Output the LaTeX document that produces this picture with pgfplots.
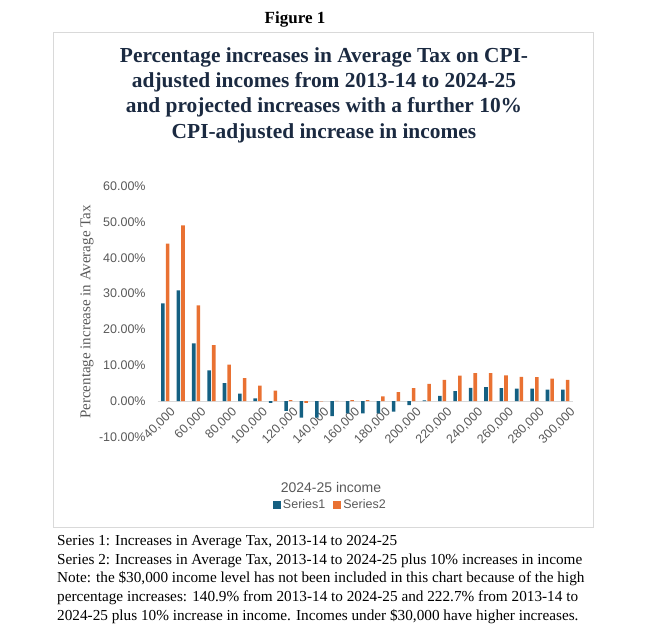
\documentclass[border=0pt]{standalone}
\usepackage{fontspec}
\setmainfont{Liberation Serif}
\newfontfamily\arial{Liberation Sans}
\usepackage{pgfplots}
\pgfplotsset{compat=1.18}
\definecolor{sone}{HTML}{156082}
\definecolor{stwo}{HTML}{E97132}
\definecolor{txtgray}{HTML}{595959}
\definecolor{ttl}{HTML}{1B2A41}
\definecolor{boxgray}{HTML}{D9D9D9}

\begin{document}
\begin{tikzpicture}
\useasboundingbox (0,0) rectangle (647bp,633bp);

\node[font=\fontsize{17bp}{20bp}\selectfont\bfseries] at (295bp,614bp) {Figure 1};
\draw[boxgray, line width=0.8bp] (53bp,106bp) rectangle (593bp,601bp);

\node[align=center, text=ttl, font=\fontsize{21.4bp}{25.3bp}\selectfont\bfseries] at (324bp,538bp)
  {Percentage increases in Average Tax on CPI-\\adjusted incomes from 2013-14 to 2024-25\\and projected increases with a further 10\%\\CPI-adjusted increase in incomes};

\begin{axis}[
    at={(157.6bp,196bp)}, anchor=south west,
    scale only axis, width=415.3bp, height=251bp,
    xmin=-0.5, xmax=26.5, ymin=-10, ymax=60,
    axis x line=middle, axis y line=left,
    x axis line style={-, draw=boxgray, line width=0.75bp},
    y axis line style={draw=none},
    major tick length=0,
    xtick={0,2,...,26},
    xticklabels={{40,000},{60,000},{80,000},{100,000},{120,000},{140,000},{160,000},{180,000},{200,000},{220,000},{240,000},{260,000},{280,000},{300,000}},
    x tick label style={rotate=45, anchor=north east, text=txtgray, font=\arial\fontsize{12.5bp}{15bp}\selectfont, xshift=3bp, yshift=-3bp},
    ytick={-10,0,...,60},
    yticklabels={{-10.00\%},{0.00\%},{10.00\%},{20.00\%},{30.00\%},{40.00\%},{50.00\%},{60.00\%}},
    y tick label style={text=txtgray, font=\arial\fontsize{12.5bp}{15bp}\selectfont, xshift=-8.5bp},
    ybar=1.1bp, bar width=0.23,
    legend style={at={(0.416,-0.271)}, anchor=center, draw=none, fill=none, legend columns=2,
        font=\arial\fontsize{12.5bp}{15bp}\selectfont, text=txtgray,
        /tikz/every even column/.append style={column sep=6bp}},
    legend image code/.code={\fill[#1] (0bp,-4bp) rectangle (8bp,4bp);},
    legend cell align=left,
]
\addplot[fill=sone, draw=none] coordinates {
    (0,27.3) (1,30.9) (2,16.1) (3,8.6) (4,5.0) (5,2.1) (6,0.75) (7,-0.5) (8,-2.7)
    (9,-4.6) (10,-4.6) (11,-4.2) (12,-3.4) (13,-3.4) (14,-3.4) (15,-2.9) (16,-1.1)
    (17,0.2) (18,1.5) (19,2.8) (20,3.7) (21,3.9) (22,3.6) (23,3.5) (24,3.5) (25,3.2) (26,3.2)
};
\addplot[fill=stwo, draw=none] coordinates {
    (0,43.9) (1,49.0) (2,26.7) (3,15.6) (4,10.2) (5,6.4) (6,4.3) (7,2.9) (8,0.3)
    (9,-0.5) (10,-0.1) (11,0.1) (12,0.3) (13,0.3) (14,1.3) (15,2.5) (16,3.6)
    (17,4.8) (18,5.9) (19,7.1) (20,7.8) (21,7.8) (22,7.2) (23,6.8) (24,6.7) (25,6.3) (26,5.9)
};
\legend{Series1,Series2}
\end{axis}

\node[rotate=90, text=txtgray, font=\fontsize{15bp}{18bp}\selectfont] at (87bp,321bp) {Percentage increase in Average Tax};
\node[text=txtgray, font=\arial\fontsize{14bp}{17bp}\selectfont] at (331bp,146bp) {2024-25 income};

\node[anchor=north west, inner sep=0pt, align=left, font=\fontsize{15.25bp}{18.8bp}\selectfont] at (57bp,98bp)
  {Series 1: Increases in Average Tax, 2013-14 to 2024-25\\
   Series 2: Increases in Average Tax, 2013-14 to 2024-25 plus 10\% increases in income\\
   Note: the \$30,000 income level has not been included in this chart because of the high\\
   percentage increases: 140.9\% from 2013-14 to 2024-25 and 222.7\% from 2013-14 to\\
   2024-25 plus 10\% increase in income. Incomes under \$30,000 have higher increases.};
\end{tikzpicture}
\end{document}
